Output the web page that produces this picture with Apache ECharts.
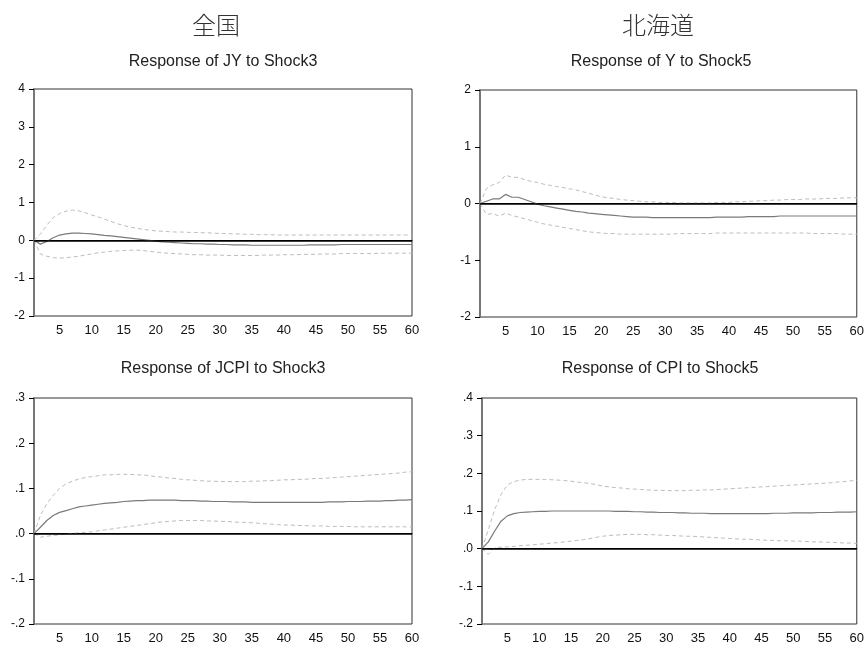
<!DOCTYPE html>
<html>
<head>
<meta charset="utf-8">
<script src="https://cdn.jsdelivr.net/npm/echarts@6/dist/echarts.min.js"></script>
<style>
html,body{margin:0;padding:0;background:#fff;}
#c{width:867px;height:645px;}
</style>
</head>
<body>
<div id="c"></div>
<script>
// Periods 1..60
const periods = Array.from({length: 60}, (_, i) => String(i + 1));

// Panel 1: Response of JY to Shock3 (全国)
const jyMean = [0,-0.10,-0.03,0.07,0.14,0.17,0.19,0.19,0.18,0.17,0.15,0.13,0.12,0.10,0.08,0.06,0.04,0.02,0.00,-0.02,-0.04,-0.05,-0.06,-0.07,-0.08,-0.09,-0.09,-0.10,-0.10,-0.11,-0.11,-0.12,-0.12,-0.12,-0.13,-0.13,-0.13,-0.13,-0.13,-0.13,-0.13,-0.13,-0.13,-0.12,-0.12,-0.12,-0.12,-0.12,-0.11,-0.11,-0.11,-0.11,-0.11,-0.11,-0.11,-0.11,-0.11,-0.11,-0.11,-0.11];
const jyUpper = [0,0.17,0.40,0.60,0.71,0.77,0.80,0.78,0.73,0.67,0.62,0.56,0.50,0.44,0.39,0.35,0.32,0.29,0.27,0.25,0.24,0.23,0.22,0.22,0.21,0.21,0.20,0.20,0.19,0.18,0.18,0.17,0.17,0.16,0.16,0.15,0.15,0.15,0.14,0.14,0.14,0.14,0.14,0.14,0.14,0.14,0.14,0.14,0.14,0.14,0.14,0.14,0.14,0.14,0.14,0.14,0.14,0.14,0.14,0.14];
const jyLower = [0,-0.36,-0.42,-0.46,-0.47,-0.46,-0.44,-0.42,-0.39,-0.36,-0.33,-0.31,-0.29,-0.28,-0.27,-0.26,-0.26,-0.27,-0.29,-0.31,-0.33,-0.34,-0.35,-0.36,-0.37,-0.38,-0.38,-0.39,-0.39,-0.39,-0.40,-0.40,-0.40,-0.40,-0.40,-0.40,-0.39,-0.39,-0.39,-0.38,-0.38,-0.38,-0.37,-0.37,-0.37,-0.36,-0.36,-0.36,-0.35,-0.35,-0.35,-0.35,-0.35,-0.35,-0.34,-0.34,-0.34,-0.34,-0.34,-0.34];

// Panel 2: Response of Y to Shock5 (北海道)
const yMean = [0,0.04,0.08,0.08,0.16,0.11,0.11,0.07,0.03,-0.01,-0.04,-0.06,-0.08,-0.10,-0.12,-0.14,-0.15,-0.17,-0.18,-0.19,-0.20,-0.21,-0.22,-0.23,-0.24,-0.24,-0.24,-0.25,-0.25,-0.25,-0.25,-0.25,-0.25,-0.25,-0.25,-0.25,-0.25,-0.24,-0.24,-0.24,-0.24,-0.24,-0.23,-0.23,-0.23,-0.23,-0.23,-0.22,-0.22,-0.22,-0.22,-0.22,-0.22,-0.22,-0.22,-0.22,-0.22,-0.22,-0.22,-0.22];
const yUpper = [0,0.26,0.33,0.37,0.50,0.46,0.46,0.42,0.39,0.37,0.34,0.32,0.30,0.28,0.26,0.24,0.21,0.18,0.15,0.12,0.10,0.09,0.07,0.06,0.05,0.04,0.03,0.03,0.02,0.02,0.02,0.01,0.01,0.01,0.01,0.01,0.01,0.02,0.02,0.02,0.03,0.03,0.04,0.04,0.05,0.05,0.06,0.06,0.07,0.07,0.07,0.08,0.08,0.08,0.09,0.09,0.09,0.10,0.10,0.10];
const yLower = [0,-0.19,-0.18,-0.22,-0.17,-0.21,-0.24,-0.27,-0.30,-0.33,-0.36,-0.38,-0.40,-0.42,-0.44,-0.46,-0.48,-0.50,-0.51,-0.52,-0.53,-0.53,-0.54,-0.54,-0.54,-0.54,-0.54,-0.54,-0.54,-0.54,-0.54,-0.53,-0.53,-0.53,-0.53,-0.53,-0.53,-0.52,-0.52,-0.52,-0.52,-0.52,-0.52,-0.52,-0.52,-0.52,-0.52,-0.52,-0.52,-0.52,-0.52,-0.52,-0.53,-0.53,-0.53,-0.53,-0.53,-0.54,-0.54,-0.54];

// Panel 3: Response of JCPI to Shock3 (全国)
const jcpiMean = [0,0.014,0.029,0.040,0.047,0.051,0.055,0.059,0.061,0.063,0.065,0.067,0.068,0.069,0.071,0.072,0.073,0.073,0.074,0.074,0.074,0.074,0.074,0.073,0.073,0.073,0.072,0.072,0.071,0.071,0.071,0.070,0.070,0.070,0.069,0.069,0.069,0.069,0.069,0.069,0.069,0.069,0.069,0.069,0.069,0.069,0.070,0.070,0.070,0.071,0.071,0.071,0.072,0.072,0.072,0.073,0.073,0.074,0.074,0.075];
const jcpiUpper = [0,0.040,0.066,0.085,0.100,0.110,0.116,0.121,0.124,0.126,0.128,0.130,0.130,0.131,0.131,0.131,0.130,0.130,0.128,0.126,0.125,0.123,0.122,0.120,0.119,0.118,0.117,0.116,0.116,0.115,0.115,0.115,0.115,0.115,0.116,0.116,0.117,0.117,0.118,0.119,0.119,0.120,0.120,0.121,0.122,0.122,0.123,0.124,0.125,0.126,0.127,0.128,0.129,0.130,0.131,0.132,0.133,0.134,0.136,0.137];
const jcpiLower = [0,-0.008,-0.006,-0.004,-0.003,-0.001,0.000,0.002,0.003,0.004,0.006,0.008,0.010,0.012,0.014,0.016,0.018,0.020,0.022,0.024,0.026,0.027,0.028,0.029,0.029,0.029,0.029,0.028,0.028,0.027,0.027,0.026,0.025,0.025,0.024,0.023,0.022,0.021,0.020,0.019,0.019,0.018,0.018,0.017,0.017,0.017,0.016,0.016,0.016,0.016,0.015,0.015,0.015,0.015,0.015,0.015,0.015,0.015,0.015,0.015];

// Panel 4: Response of CPI to Shock5 (北海道)
const cpiMean = [0,0.018,0.047,0.073,0.087,0.093,0.096,0.097,0.098,0.099,0.099,0.100,0.100,0.100,0.100,0.100,0.100,0.100,0.100,0.100,0.100,0.099,0.099,0.099,0.098,0.098,0.097,0.097,0.096,0.096,0.096,0.095,0.095,0.094,0.094,0.094,0.093,0.093,0.093,0.093,0.093,0.093,0.093,0.093,0.093,0.093,0.094,0.094,0.094,0.095,0.095,0.095,0.095,0.096,0.096,0.096,0.097,0.097,0.097,0.098];
const cpiUpper = [0,0.051,0.104,0.144,0.169,0.178,0.182,0.184,0.184,0.184,0.184,0.183,0.182,0.181,0.179,0.177,0.175,0.173,0.170,0.166,0.164,0.162,0.161,0.159,0.158,0.157,0.156,0.155,0.155,0.154,0.154,0.154,0.154,0.155,0.155,0.156,0.156,0.157,0.158,0.159,0.160,0.161,0.162,0.163,0.164,0.165,0.166,0.167,0.168,0.169,0.170,0.171,0.172,0.173,0.174,0.175,0.177,0.178,0.180,0.181];
const cpiLower = [0,-0.015,0.003,0.004,0.005,0.006,0.008,0.009,0.010,0.012,0.013,0.015,0.016,0.018,0.020,0.022,0.024,0.027,0.030,0.033,0.035,0.036,0.037,0.038,0.038,0.038,0.037,0.037,0.036,0.035,0.035,0.034,0.033,0.033,0.032,0.031,0.030,0.029,0.028,0.027,0.026,0.025,0.025,0.024,0.023,0.022,0.022,0.021,0.021,0.020,0.020,0.019,0.018,0.018,0.017,0.017,0.016,0.015,0.015,0.014];

const regionTitles = ['全国', '北海道'];
const panelTitles = ['Response of JY to Shock3', 'Response of Y to Shock5', 'Response of JCPI to Shock3', 'Response of CPI to Shock5'];
const yRanges = [[-2, 4, 1], [-2, 2, 1], [-0.2, 0.3, 0.1], [-0.2, 0.4, 0.1]];

const panels = [
  {mean: jyMean, upper: jyUpper, lower: jyLower},
  {mean: yMean, upper: yUpper, lower: yLower},
  {mean: jcpiMean, upper: jcpiUpper, lower: jcpiLower},
  {mean: cpiMean, upper: cpiUpper, lower: cpiLower}
];

const grids = [
  {left: 34, top: 89, width: 378, height: 227},
  {left: 480, top: 90, width: 378, height: 227},
  {left: 34, top: 398, width: 378, height: 226},
  {left: 482, top: 398, width: 379, height: 226}
];

const FONT = '"Liberation Sans", Arial, sans-serif';

function fmtY(decimal) {
  return function (v) {
    if (!decimal) return String(Math.round(v));
    const r = Math.round(v * 10) / 10;
    let s = r.toFixed(1);
    if (s === '-0.0') s = '0.0';
    return s.replace(/^(-?)0\./, '$1.');
  };
}

const option = {
  backgroundColor: '#fff',
  animation: false,
  grid: grids.map(g => Object.assign({show: true, borderColor: '#333', borderWidth: 1, backgroundColor: 'transparent'}, g)),
  xAxis: grids.map((g, i) => ({
    type: 'category',
    gridIndex: i,
    data: periods,
    boundaryGap: false,
    axisLine: {show: true, lineStyle: {color: '#000', width: 1}},
    axisTick: {show: false},
    splitLine: {show: false},
    axisLabel: {
      interval: (idx, val) => Number(val) % 5 === 0,
      color: '#111', fontFamily: FONT, fontSize: 13, margin: 8
    }
  })),
  yAxis: yRanges.map((r, i) => ({
    type: 'value',
    gridIndex: i,
    min: r[0], max: r[1], interval: r[2],
    axisLine: {show: true, onZero: false, lineStyle: {color: '#777', width: 2}},
    axisTick: {show: true, length: 5, lineStyle: {color: '#000'}},
    splitLine: {show: false},
    axisLabel: {color: '#111', fontFamily: FONT, fontSize: 12, margin: 9, formatter: fmtY(r[2] < 1)}
  })),
  series: [],
  graphic: []
};

panels.forEach((p, i) => {
  const base = {type: 'line', xAxisIndex: i, yAxisIndex: i, showSymbol: false, symbol: 'none', silent: true};
  option.series.push(Object.assign({}, base, {
    name: 'upper' + i, data: p.upper, z: 2,
    lineStyle: {color: '#bdbdbd', width: 1, type: [4, 3]}
  }));
  option.series.push(Object.assign({}, base, {
    name: 'lower' + i, data: p.lower, z: 2,
    lineStyle: {color: '#bdbdbd', width: 1, type: [4, 3]}
  }));
  option.series.push(Object.assign({}, base, {
    name: 'mean' + i, data: p.mean, z: 3,
    lineStyle: {color: '#7a7a7a', width: 1.2},
    markLine: {
      silent: true, symbol: 'none', animation: false,
      label: {show: false},
      lineStyle: {color: '#000', width: 1.5, type: 'solid'},
      data: [{yAxis: 0}]
    }
  }));
});

// Titles
const regionX = [216, 658];
regionTitles.forEach((t, i) => {
  option.graphic.push({
    type: 'text', x: regionX[i], y: 25,
    style: {text: t, font: '300 24px "Noto Sans CJK JP"', fill: '#333', align: 'center', verticalAlign: 'middle'}
  });
});
const subPos = [[223, 62], [661, 62], [223, 369], [660, 369]];
panelTitles.forEach((t, i) => {
  option.graphic.push({
    type: 'text', x: subPos[i][0], y: subPos[i][1],
    style: {text: t, font: '16px "Liberation Sans", Arial, sans-serif', fill: '#222', align: 'center', verticalAlign: 'middle'}
  });
});

const chart = echarts.init(document.getElementById('c'), null, {renderer: 'canvas'});
chart.setOption(option);
</script>
</body>
</html>
